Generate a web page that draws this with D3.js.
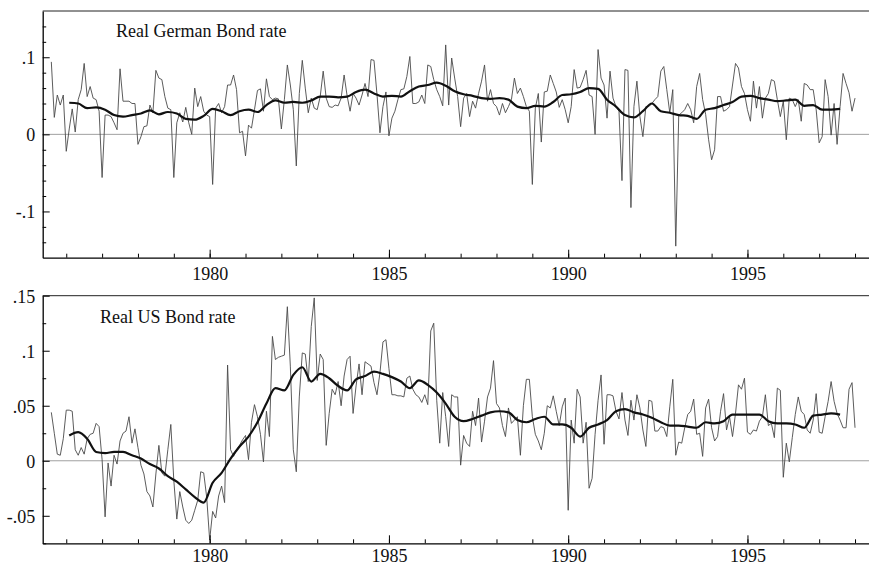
<!DOCTYPE html>
<html>
<head>
<meta charset="utf-8">
<script src="https://cdnjs.cloudflare.com/ajax/libs/d3/7.8.5/d3.min.js"></script>
<style>
  body { margin: 0; background: #fff; }
  svg { display: block; font-family: "Liberation Serif", "Times New Roman", serif; }
  .axis path, .axis line { stroke: #000; }
  .axis text { font-family: "Liberation Serif", "Times New Roman", serif; font-size: 18px; fill: #111; }
</style>
</head>
<body>
<div class="chart"></div>
<script>
//monthly observations, first one is Aug 1975
let firstMonth = 1975 + 7 / 12;
let smoothStart = 6;
let smoothStep = 3;

let germanRaw = [
  0.094, 0.022, 0.051, 0.038, 0.051, -0.022, 0.007, 0.033, 0.003, 0.045,
  0.058, 0.092, 0.049, 0.062, 0.047, 0.045, 0.030, -0.056, 0.025, 0.025,
  0.023, 0.015, 0.006, 0.085, 0.043, 0.043, 0.043, 0.040, 0.040, -0.013,
  -0.003, 0.010, 0.011, 0.038, 0.028, 0.083, 0.073, 0.071, 0.049, 0.034,
  0.032, -0.056, 0.015, 0.028, 0.016, 0.035, 0.015, 0.000, 0.060, 0.036,
  0.049, 0.030, 0.025, 0.023, -0.065, 0.034, 0.040, 0.028, 0.036, 0.064,
  0.064, 0.077, 0.058, 0.002, 0.004, -0.028, 0.012, 0.008, 0.032, 0.057,
  0.059, 0.030, 0.072, 0.049, 0.045, 0.047, 0.046, 0.007, 0.045, 0.090,
  0.064, 0.032, -0.041, 0.053, 0.096, 0.060, 0.028, 0.047, 0.034, 0.032,
  0.049, 0.082, 0.047, 0.036, 0.035, 0.038, 0.037, 0.047, 0.077, 0.050,
  0.030, 0.053, 0.047, 0.038, 0.051, 0.066, 0.049, 0.097, 0.096, 0.052,
  0.002, 0.036, 0.055, -0.002, 0.021, 0.030, 0.045, 0.058, 0.059, 0.075,
  0.101, 0.040, 0.040, 0.042, 0.051, 0.040, 0.090, 0.088, 0.071, 0.058,
  0.049, 0.037, 0.116, 0.038, 0.099, 0.073, 0.049, 0.010, 0.047, 0.053,
  0.023, 0.043, 0.034, 0.053, 0.069, 0.090, 0.043, 0.058, 0.040, 0.036,
  0.025, 0.040, 0.028, 0.036, 0.045, 0.073, 0.053, 0.060, 0.049, 0.036,
  0.030, -0.065, 0.034, 0.053, -0.010, 0.055, 0.056, 0.077, 0.066, 0.055,
  0.035, 0.045, 0.032, 0.015, 0.036, 0.084, 0.060, 0.061, 0.071, 0.083,
  0.051, 0.049, 0.000, 0.110, 0.073, 0.064, 0.021, 0.082, 0.047, 0.036,
  0.030, -0.060, 0.084, 0.083, -0.095, 0.036, 0.069, 0.023, -0.003, 0.036,
  0.036, 0.040, 0.045, 0.049, 0.082, 0.088, 0.058, 0.028, 0.058, -0.145,
  0.025, 0.028, 0.032, 0.040, 0.032, 0.015, 0.062, 0.079, 0.045, 0.026,
  -0.007, -0.033, -0.020, 0.049, 0.049, 0.030, 0.032, 0.036, 0.064, 0.092,
  0.086, 0.062, 0.053, 0.032, 0.017, 0.069, 0.034, 0.062, 0.021, 0.047,
  0.053, 0.071, 0.069, 0.045, 0.023, 0.043, -0.007, 0.047, 0.045, 0.036,
  0.045, 0.017, 0.066, 0.064, 0.058, 0.058, 0.032, -0.011, -0.003, 0.071,
  0.049, -0.001, 0.040, -0.013, 0.036, 0.079, 0.066, 0.054, 0.030, 0.047
];

let germanSmooth = [
  0.041, 0.040, 0.034, 0.035, 0.032, 0.025, 0.023, 0.025, 0.027, 0.031,
  0.026, 0.029, 0.027, 0.020, 0.019, 0.024, 0.033, 0.030, 0.025, 0.030,
  0.032, 0.029, 0.038, 0.044, 0.041, 0.042, 0.041, 0.044, 0.049, 0.049,
  0.048, 0.049, 0.055, 0.058, 0.053, 0.049, 0.050, 0.049, 0.056, 0.062,
  0.064, 0.067, 0.063, 0.056, 0.052, 0.050, 0.047, 0.046, 0.047, 0.045,
  0.036, 0.034, 0.037, 0.036, 0.042, 0.051, 0.052, 0.055, 0.060, 0.059,
  0.045, 0.036, 0.025, 0.022, 0.030, 0.040, 0.030, 0.028, 0.025, 0.024,
  0.020, 0.032, 0.034, 0.038, 0.042, 0.049, 0.050, 0.047, 0.045, 0.043,
  0.044, 0.045, 0.037, 0.038, 0.032, 0.032, 0.033
];

let usRaw = [
  0.044, 0.025, 0.006, 0.005, 0.020, 0.046, 0.046, 0.045, 0.010, 0.005,
  0.012, 0.006, 0.020, 0.024, 0.025, 0.034, 0.031, 0.001, -0.051, -0.002,
  -0.023, 0.005, -0.003, 0.018, 0.025, 0.027, 0.040, 0.016, 0.029, 0.012,
  -0.004, -0.012, -0.028, -0.032, -0.042, -0.012, 0.014, -0.011, -0.014, 0.010,
  0.033, -0.018, -0.053, -0.028, -0.042, -0.054, -0.057, -0.054, -0.045, -0.036,
  -0.010, -0.011, -0.033, -0.072, -0.046, -0.052, -0.032, -0.023, -0.038, 0.087,
  0.010, 0.004, 0.010, 0.014, 0.019, 0.023, 0.001, 0.035, 0.051, 0.040,
  0.024, -0.001, 0.045, 0.022, 0.113, 0.092, 0.094, 0.095, 0.096, 0.140,
  0.086, 0.010, -0.010, 0.058, 0.098, 0.097, 0.072, 0.122, 0.148, 0.073,
  0.097, 0.092, 0.014, 0.043, 0.065, 0.060, 0.072, 0.050, 0.077, 0.092,
  0.095, 0.043, 0.068, 0.088, 0.060, 0.090, 0.088, 0.086, 0.071, 0.060,
  0.080, 0.108, 0.110, 0.084, 0.060, 0.060, 0.059, 0.059, 0.058, 0.075,
  0.077, 0.065, 0.060, 0.058, 0.053, 0.060, 0.051, 0.118, 0.125, 0.055,
  0.016, 0.062, 0.040, 0.013, 0.060, 0.058, 0.058, -0.004, 0.023, 0.016,
  0.013, 0.045, 0.032, 0.057, 0.017, 0.036, 0.058, 0.066, 0.091, 0.052,
  0.048, 0.032, 0.022, 0.048, 0.034, 0.037, 0.040, 0.005, 0.050, 0.074,
  0.074, 0.040, 0.024, 0.018, 0.010, 0.025, 0.050, 0.048, 0.059, 0.045,
  0.032, 0.049, 0.057, -0.045, 0.037, 0.016, 0.065, 0.058, 0.016, 0.035,
  -0.025, -0.016, 0.024, 0.055, 0.078, 0.015, 0.060, 0.060, 0.059, 0.045,
  0.038, 0.062, 0.037, 0.023, 0.055, 0.037, 0.060, 0.048, 0.028, 0.013,
  0.055, 0.054, 0.027, 0.027, 0.031, 0.030, 0.022, 0.049, 0.074, 0.005,
  0.017, 0.016, 0.030, 0.042, 0.045, 0.056, 0.024, 0.025, 0.004, 0.048,
  0.056, 0.030, 0.018, 0.022, 0.045, 0.061, 0.028, 0.040, 0.022, 0.043,
  0.069, 0.065, 0.075, 0.026, 0.024, 0.028, 0.027, 0.036, 0.040, 0.060,
  0.032, 0.034, 0.021, 0.066, 0.064, -0.015, 0.016, -0.001, 0.021, 0.042,
  0.058, 0.045, 0.042, 0.028, 0.025, 0.037, 0.061, 0.026, 0.025, 0.040,
  0.054, 0.072, 0.054, 0.043, 0.037, 0.030, 0.030, 0.065, 0.071, 0.030
];

let usSmooth = [
  0.023, 0.026, 0.020, 0.008, 0.007, 0.008, 0.008, 0.005, 0.002, -0.003,
  -0.007, -0.014, -0.019, -0.026, -0.033, -0.038, -0.020, -0.011, 0.002, 0.013,
  0.022, 0.035, 0.052, 0.066, 0.064, 0.078, 0.085, 0.072, 0.079, 0.075,
  0.068, 0.064, 0.074, 0.077, 0.081, 0.079, 0.076, 0.072, 0.066, 0.073,
  0.069, 0.062, 0.052, 0.040, 0.036, 0.038, 0.041, 0.044, 0.045, 0.044,
  0.037, 0.035, 0.038, 0.040, 0.033, 0.033, 0.030, 0.022, 0.030, 0.033,
  0.037, 0.045, 0.047, 0.044, 0.042, 0.039, 0.035, 0.032, 0.032, 0.031,
  0.030, 0.035, 0.034, 0.036, 0.042, 0.042, 0.042, 0.042, 0.036, 0.034,
  0.034, 0.033, 0.030, 0.041, 0.042, 0.043, 0.042
];

//tick values and labels
let yearTicks = d3.range(1976, 1999);
let yearLabels = [1980, 1985, 1990, 1995];
let germanMajor = [-0.1, 0, 0.1];
let germanLabels = ["-.1", "0", ".1"];
let germanMinor = [-0.14, -0.12, -0.08, -0.06, -0.04, -0.02, 0.02, 0.04, 0.06, 0.08, 0.12, 0.14];
let usMajor = [-0.05, 0, 0.05, 0.1, 0.15];
let usLabels = ["-.05", "0", ".05", ".1", ".15"];
let usMinor = [-0.075, -0.025, 0.025, 0.075, 0.125];

let svg;
let xScale;
let left = 42.7;
let right = 869;

let panels = [
  {
    title: "Real German Bond rate", raw: germanRaw, smooth: germanSmooth,
    major: germanMajor, labels: germanLabels, minor: germanMinor,
    domain: [-0.16, 0.16], top: 11, bottom: 257.7, titleX: 116, titleY: 36.7,
    labelPad: 10
  },
  {
    title: "Real US Bond rate", raw: usRaw, smooth: usSmooth,
    major: usMajor, labels: usLabels, minor: usMinor,
    domain: [-0.075, 0.15], top: 295.7, bottom: 543.3, titleX: 100, titleY: 323.3,
    labelPad: 6.3
  }
];

svg = d3.select(".chart").append("svg")
  .attr("width", 869)
  .attr("height", 567);

xScale = d3.scaleLinear()
  .domain([1975.343, 1998.39])
  .range([left, right]);

panels.forEach(drawPanel);

function drawPanel(p) {
  let yScale = d3.scaleLinear()
    .domain(p.domain)
    .range([p.bottom, p.top]);

  let g = svg.append("g");

  //zero line
  g.append("line")
    .attr("x1", left).attr("x2", right)
    .attr("y1", yScale(0)).attr("y2", yScale(0))
    .attr("stroke", "#a0a0a0")
    .attr("stroke-width", 1);

  //top border
  g.append("line")
    .attr("x1", left).attr("x2", right)
    .attr("y1", p.top).attr("y2", p.top)
    .attr("stroke", "#222")
    .attr("stroke-width", 1);

  let rawLine = d3.line()
    .x((d, i) => xScale(firstMonth + i / 12))
    .y(d => yScale(d));

  let smoothLine = d3.line()
    .curve(d3.curveMonotoneX)
    .x((d, i) => xScale(firstMonth + (smoothStart + i * smoothStep) / 12))
    .y(d => yScale(d));

  g.append("path")
    .attr("d", rawLine(p.raw))
    .attr("fill", "none")
    .attr("stroke", "#4a4a4a")
    .attr("stroke-width", 0.9)
    .attr("stroke-linejoin", "round");

  g.append("path")
    .attr("d", smoothLine(p.smooth))
    .attr("fill", "none")
    .attr("stroke", "#111")
    .attr("stroke-width", 2.2)
    .attr("stroke-linejoin", "round");

  //left axis: labels outside, ticks inside
  g.append("g")
    .attr("class", "axis")
    .attr("transform", `translate(${left},0)`)
    .call(d3.axisLeft(yScale)
      .tickValues(p.major)
      .tickFormat((d, i) => p.labels[i])
      .tickSize(0)
      .tickPadding(7.5))
    .call(a => a.select(".domain").attr("stroke-width", 1.3))
    .call(a => a.selectAll("text").attr("dy", "0.36em"));

  g.append("g")
    .attr("class", "axis")
    .attr("transform", `translate(${left},0)`)
    .call(d3.axisRight(yScale).tickValues(p.major).tickSize(7).tickFormat(""))
    .call(a => a.select(".domain").remove());

  g.append("g")
    .attr("class", "axis")
    .attr("transform", `translate(${left},0)`)
    .call(d3.axisRight(yScale).tickValues(p.minor).tickSize(3.5).tickFormat(""))
    .call(a => a.select(".domain").remove());

  //bottom axis: year ticks point up, labels below
  g.append("g")
    .attr("class", "axis")
    .attr("transform", `translate(0,${p.bottom})`)
    .call(d3.axisBottom(xScale)
      .tickValues(yearLabels)
      .tickFormat(d3.format("d"))
      .tickSize(0)
      .tickSizeOuter(0)
      .tickPadding(p.labelPad))
    .call(a => a.select(".domain").attr("stroke-width", 1.3));

  g.append("g")
    .attr("class", "axis")
    .attr("transform", `translate(0,${p.bottom})`)
    .call(d3.axisTop(xScale).tickValues(yearTicks).tickSize(4).tickFormat(""))
    .call(a => a.select(".domain").remove());

  g.append("g")
    .attr("class", "axis")
    .attr("transform", `translate(0,${p.bottom})`)
    .call(d3.axisTop(xScale).tickValues(yearLabels).tickSize(8).tickFormat(""))
    .call(a => a.select(".domain").remove());

  g.append("text")
    .attr("x", p.titleX)
    .attr("y", p.titleY)
    .attr("font-size", 18)
    .attr("fill", "#111")
    .text(p.title);
}
</script>
</body>
</html>
